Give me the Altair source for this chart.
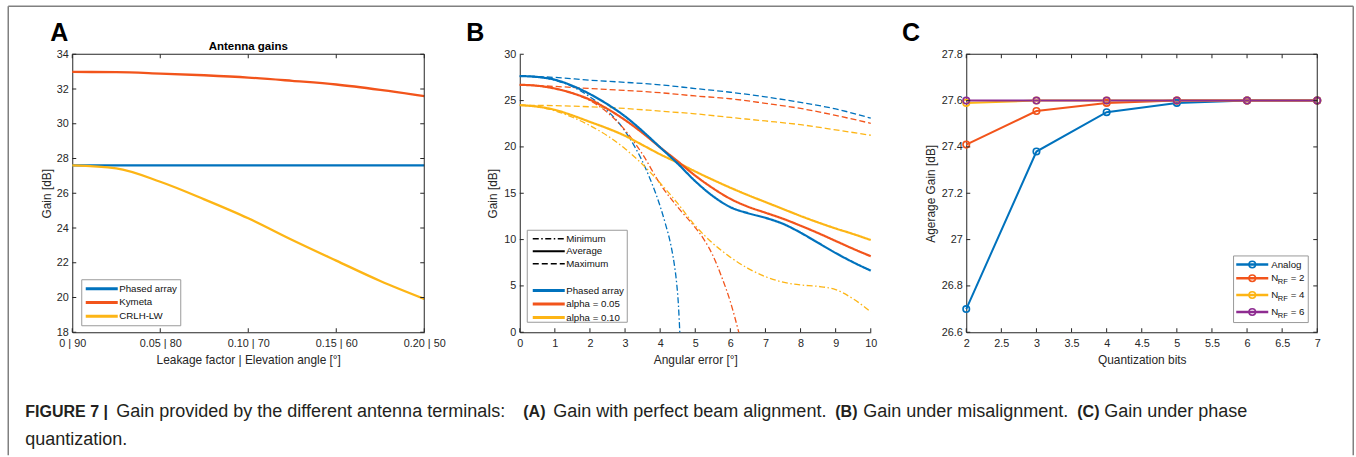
import json

import altair as alt
import pandas as pd

FONT = "Liberation Sans"
INK = "#262626"
TEXT = "#231F20"
FRAME = "#808080"
LEGEND_EDGE = "#9A9A9A"
BLUE, ORANGE, YELLOW, PURPLE = "#0072BD", "#F2541B", "#FDB515", "#8E2C91"

# plot-area sizes of the three panels
W_A, W_B, W_C, H = 352, 351, 351, 278
TICK = 4
LINE_SYMBOL = "M-1,0H5.4"  # long horizontal stroke used as legend symbol

# ---------------- Panel A: gain with perfect alignment ----------------
a_leak = [0.0, 0.025, 0.05, 0.075, 0.1, 0.125, 0.15, 0.175, 0.2]
a_phased = [27.6, 27.6, 27.6, 27.6, 27.6, 27.6, 27.6, 27.6, 27.6]
a_kymeta = [32.98, 32.97, 32.89, 32.79, 32.66, 32.47, 32.26, 31.95, 31.59]
a_crlh = [27.6, 27.43, 26.66, 25.65, 24.56, 23.31, 22.12, 20.95, 19.92]
a_names = ["Phased array", "Kymeta", "CRLH-LW"]
a_xticks = [0, 0.05, 0.1, 0.15, 0.2]
a_xlabels = ["0 | 90", "0.05 | 80", "0.10 | 70", "0.15 | 60", "0.20 | 50"]
a_yticks = [18, 20, 22, 24, 26, 28, 30, 32, 34]

# ---------------- Panel B: gain under misalignment ----------------
b_angle = [0, 0.5, 1, 1.5, 2, 2.5, 3, 3.5, 4, 4.5, 5, 5.5, 6, 6.5, 7, 7.5, 8, 8.5, 9, 9.5, 10]
b_pa_avg = [27.65, 27.55, 27.25, 26.6, 25.7, 24.6, 23.3, 21.7, 19.95, 18.2, 16.3,
            14.7, 13.5, 12.85, 12.35, 11.7, 10.75, 9.65, 8.55, 7.55, 6.65]
b_a05_avg = [26.7, 26.6, 26.3, 25.8, 25.1, 24.1, 22.9, 21.5, 19.95, 18.45, 16.9,
             15.55, 14.4, 13.55, 12.9, 12.25, 11.5, 10.7, 9.85, 9.0, 8.2]
b_a10_avg = [24.5, 24.35, 24.0, 23.4, 22.7, 22.0, 21.2, 20.2, 19.2, 18.3, 17.35,
             16.45, 15.6, 14.8, 14.05, 13.3, 12.55, 11.85, 11.2, 10.6, 9.95]

b_angle_max = [0, 1, 2, 3, 4, 5, 6, 7, 8, 9, 10]
b_pa_max = [27.65, 27.5, 27.2, 26.97, 26.7, 26.3, 25.9, 25.4, 24.8, 24.1, 23.1]
b_a05_max = [26.7, 26.53, 26.3, 26.1, 25.85, 25.5, 25.2, 24.7, 24.15, 23.4, 22.55]
b_a10_max = [24.5, 24.45, 24.33, 24.15, 23.86, 23.57, 23.18, 22.8, 22.4, 21.84, 21.26]

b_pa_min_x = [0, 0.5, 1, 1.5, 2, 2.5, 3, 3.25, 3.5, 3.75, 4, 4.15, 4.3, 4.4, 4.47, 4.52, 4.56]
b_pa_min = [27.65, 27.55, 27.2, 26.5, 25.4, 23.9, 21.7, 20.2, 18.4, 16.2, 13.6, 11.7, 9.5, 7.4, 5.3, 3.0, 0.0]
b_a05_min_x = [0, 0.5, 1, 1.5, 2, 2.5, 3, 3.5, 4, 4.5, 5, 5.25, 5.5, 5.75, 6, 6.24]
b_a05_min = [26.7, 26.6, 26.3, 25.8, 25.0, 23.7, 21.8, 19.2, 16.0, 13.5, 11.3, 10.0, 8.3, 6.0, 3.3, 0.0]
b_a10_min = [24.5, 24.35, 23.9, 23.2, 22.3, 21.2, 19.8, 18.1, 16.1, 13.9, 11.5,
             9.6, 8.1, 6.9, 6.0, 5.4, 5.1, 4.95, 4.6, 3.6, 2.2]

b_series = ["Phased array", "alpha = 0.05", "alpha = 0.10"]
b_stats = ["Minimum", "Average", "Maximum"]
b_xticks = [0, 1, 2, 3, 4, 5, 6, 7, 8, 9, 10]
b_yticks = [0, 5, 10, 15, 20, 25, 30]

# ---------------- Panel C: gain under phase quantization ----------------
c_bits = [2, 3, 4, 5, 6, 7]
c_analog = [26.70, 27.38, 27.55, 27.59, 27.60, 27.60]
c_nrf2 = [27.41, 27.555, 27.59, 27.60, 27.60, 27.60]
c_nrf4 = [27.59, 27.60, 27.60, 27.60, 27.60, 27.60]
c_nrf6 = [27.60, 27.60, 27.60, 27.60, 27.60, 27.60]
c_names = ["Analog", "NRF = 2", "NRF = 4", "NRF = 6"]
c_colors = [BLUE, ORANGE, YELLOW, PURPLE]
c_legend_sub = ["", "RF", "RF", "RF"]
c_legend_tail = ["", "= 2", "= 4", "= 6"]
c_xticks = [2, 2.5, 3, 3.5, 4, 4.5, 5, 5.5, 6, 6.5, 7]
c_yticks = [26.6, 26.8, 27, 27.2, 27.4, 27.6, 27.8]

CAPTION = [
    # (text, x, baseline, bold)
    ("FIGURE 7 |", -47, 363, True),
    ("Gain provided by the different antenna terminals:", 44, 363, False),
    ("(A)", 451, 363, True),
    ("Gain with perfect beam alignment.", 481, 363, False),
    ("(B)", 763, 363, True),
    ("Gain under misalignment.", 791, 363, False),
    ("(C)", 1005, 363, True),
    ("Gain under phase", 1032, 363, False),
    ("quantization.", -47, 391, False),
]


def lookup_expr(values, labels):
    return f"{json.dumps(labels)}[indexof({json.dumps(values)}, datum.value)]"


def txt(text, x, y, size, weight="normal", align="left", baseline="alphabetic",
        color=TEXT, font=FONT):
    return alt.Chart(pd.DataFrame({"t": [text]})).mark_text(
        align=align, baseline=baseline, font=font, fontSize=size,
        fontWeight=weight, color=color,
    ).encode(x=alt.value(x), y=alt.value(y), text="t:N")


def hrule(x, x2, y, color=INK, width=1.0):
    return alt.Chart(pd.DataFrame({"k": [0]})).mark_rule(color=color, strokeWidth=width).encode(
        x=alt.value(x), x2=alt.value(x2), y=alt.value(y))


def vrule(x, y, y2, color=INK, width=1.0):
    return alt.Chart(pd.DataFrame({"k": [0]})).mark_rule(color=color, strokeWidth=width).encode(
        x=alt.value(x), y=alt.value(y), y2=alt.value(y2))


def box(x, x2, y, y2, stroke=LEGEND_EDGE):
    return alt.Chart(pd.DataFrame({"k": [0]})).mark_rect(
        fill="white", stroke=stroke, strokeWidth=1).encode(
        x=alt.value(x), x2=alt.value(x2), y=alt.value(y), y2=alt.value(y2))


def encoders(xdom, ydom, xaxis, yaxis):
    xs = alt.Scale(domain=xdom, nice=False, zero=False)
    ys = alt.Scale(domain=ydom, nice=False, zero=False)

    def X(f):
        return alt.X(f"{f}:Q", scale=xs, axis=xaxis)

    def Y(f):
        return alt.Y(f"{f}:Q", scale=ys, axis=yaxis)
    return X, Y


def inner_ticks(xs, ys, X, Y, width, boxed):
    xdf = pd.DataFrame({"tx": xs})
    ydf = pd.DataFrame({"ty": ys})
    out = [
        alt.Chart(xdf).mark_rule(color=INK, strokeWidth=1).encode(
            x=X("tx"), y=alt.value(H), y2=alt.value(H - TICK)),
        alt.Chart(ydf).mark_rule(color=INK, strokeWidth=1).encode(
            y=Y("ty"), x=alt.value(0), x2=alt.value(TICK)),
    ]
    if boxed:
        out += [
            alt.Chart(xdf).mark_rule(color=INK, strokeWidth=1).encode(
                x=X("tx"), y=alt.value(0), y2=alt.value(TICK)),
            alt.Chart(ydf).mark_rule(color=INK, strokeWidth=1).encode(
                y=Y("ty"), x=alt.value(width), x2=alt.value(width - TICK)),
            hrule(0, width, 0),
            vrule(width, 0, H),
        ]
    return out


def bottom_axis(values, title, width, **kw):
    return alt.Axis(values=values, title=title, titleX=width / 2, titleY=27,
                    titleBaseline="middle", labelPadding=5, **kw)


def left_axis(values, title, tx, **kw):
    return alt.Axis(values=values, title=title, titleX=tx, titleY=H / 2, titleAngle=270,
                    titleBaseline="middle", titleAlign="center", labelPadding=4, **kw)


# ---------- Panel A ----------
AX, AY = encoders([0, 0.2], [18, 34],
                  bottom_axis(a_xticks, "Leakage factor | Elevation angle [°]", W_A,
                              labelExpr=lookup_expr(a_xticks, a_xlabels)),
                  left_axis(a_yticks, "Gain [dB]", -26))
a_df = pd.DataFrame({
    "leak": a_leak * 3,
    "gain": a_phased + a_kymeta + a_crlh,
    "antenna": [n for n in a_names for _ in a_leak],
})
a_lines = alt.Chart(a_df).mark_line(strokeWidth=2.3, interpolate="monotone").encode(
    x=AX("leak"), y=AY("gain"),
    color=alt.Color("antenna:N", sort=a_names,
                    scale=alt.Scale(domain=a_names, range=[BLUE, ORANGE, YELLOW]),
                    legend=alt.Legend(orient="none", legendX=9, legendY=225, title=None,
                                      symbolType=LINE_SYMBOL, symbolSize=100, symbolStrokeWidth=3,
                                      labelOffset=22, padding=3, rowPadding=0.7,
                                      strokeColor=LEGEND_EDGE, fillColor="white")),
)
frame = [
    hrule(-64, 1281, -48, FRAME, 1.5),
    vrule(-64, -48, 401, FRAME, 1.5),
    vrule(1281, -48, 401, FRAME, 1.5),
]
caption = [
    txt(t, x, y, 16, "bold") if b else txt(t, x, y, 18)
    for t, x, y, b in CAPTION
]
panel_a = alt.layer(
    *frame,
    a_lines,
    *inner_ticks(a_xticks, a_yticks, AX, AY, W_A, True),
    txt("Antenna gains", W_A / 2, -4.5, 11.5, "bold", align="center", color="#000"),
    txt("A", -22, -13, 25, "bold", color="#000"),
    *caption,
).properties(width=W_A, height=H)

# ---------- Panel B ----------
BX, BY = encoders([0, 10], [0, 30],
                  bottom_axis(b_xticks, "Angular error [°]", W_B),
                  left_axis(b_yticks, "Gain [dB]", -27.5))
curves = [
    ("Phased array", "Minimum", b_pa_min_x, b_pa_min),
    ("alpha = 0.05", "Minimum", b_a05_min_x, b_a05_min),
    ("alpha = 0.10", "Minimum", b_angle, b_a10_min),
    ("Phased array", "Maximum", b_angle_max, b_pa_max),
    ("alpha = 0.05", "Maximum", b_angle_max, b_a05_max),
    ("alpha = 0.10", "Maximum", b_angle_max, b_a10_max),
    ("alpha = 0.10", "Average", b_angle, b_a10_avg),
    ("alpha = 0.05", "Average", b_angle, b_a05_avg),
    ("Phased array", "Average", b_angle, b_pa_avg),
]
b_df = pd.DataFrame([
    {"angle": x, "gain": g, "series": s, "stat": t}
    for s, t, xs, gs in curves for x, g in zip(xs, gs)
])
stat_legend = alt.Legend(orient="none", legendX=11.5, legendY=178.5, title=None,
                         symbolType=LINE_SYMBOL, symbolSize=100, symbolStrokeColor="black",
                         labelOffset=22, padding=0, rowPadding=1)
b_lines = alt.Chart(b_df).mark_line(interpolate="monotone").encode(
    x=BX("angle"), y=BY("gain"),
    color=alt.Color("series:N", sort=b_series,
                    scale=alt.Scale(domain=b_series, range=[BLUE, ORANGE, YELLOW]),
                    legend=alt.Legend(orient="none", legendX=11.5, legendY=229.8, title=None,
                                      symbolType=LINE_SYMBOL, symbolSize=100, symbolStrokeWidth=3,
                                      labelOffset=22, padding=0, rowPadding=0.5)),
    strokeDash=alt.StrokeDash("stat:O", sort=b_stats,
                              scale=alt.Scale(domain=b_stats, range=[[6, 2.5, 1.5, 2.5], [1, 0], [6, 3]]),
                              legend=stat_legend),
    strokeWidth=alt.StrokeWidth("stat:O", sort=b_stats,
                                scale=alt.Scale(type="ordinal", domain=b_stats, range=[1.3, 2.2, 1.3]),
                                legend=stat_legend),
)
panel_b = alt.layer(
    b_lines,
    *inner_ticks(b_xticks, b_yticks, BX, BY, W_B, False),
    box(7.5, 107.5, 176, 268),
    txt("B", -53.5, -13, 25, "bold", color="#000"),
).properties(width=W_B, height=H)

# ---------- Panel C ----------
CX, CY = encoders([2, 7], [26.6, 27.8],
                  bottom_axis(c_xticks, "Quantization bits", W_C, format="~g"),
                  left_axis(c_yticks, "Agerage Gain [dB]", -36, format="~g"))
c_df = pd.DataFrame({
    "bits": c_bits * 4,
    "gain": c_analog + c_nrf2 + c_nrf4 + c_nrf6,
    "scheme": [n for n in c_names for _ in c_bits],
})
c_color = alt.Color("scheme:N", sort=c_names,
                    scale=alt.Scale(domain=c_names, range=c_colors), legend=None)
c_lines = alt.Chart(c_df).mark_line(strokeWidth=2).encode(
    x=CX("bits"), y=CY("gain"), color=c_color, order=alt.Order("bits:Q"))
c_points = alt.Chart(c_df).mark_point(filled=False, size=42, strokeWidth=1.6, opacity=1).encode(
    x=CX("bits"), y=CY("gain"), color=c_color)

c_leg = [box(267.3, 342, 201.7, 268.3)]
c_rows = [210.3, 224, 240.7, 257.7]
for name, col, sub, tail, yy in zip(c_names, c_colors, c_legend_sub, c_legend_tail, c_rows):
    c_leg.append(hrule(270, 302, yy, col, 2.5))
    c_leg.append(alt.Chart(pd.DataFrame({"k": [0]})).mark_point(
        filled=False, size=42, strokeWidth=1.6, color=col, opacity=1).encode(
        x=alt.value(286), y=alt.value(yy)))
    if sub:
        c_leg.append(txt("N", 305, yy + 3, 9.7, color="#111"))
        c_leg.append(txt(sub, 311.5, yy + 6, 7.5, color="#111"))
        c_leg.append(txt(tail, 324.5, yy + 3, 9.7, color="#111"))
    else:
        c_leg.append(txt(name, 305, yy + 3.5, 9.7, color="#111"))

panel_c = alt.layer(
    c_lines, c_points,
    *inner_ticks(c_xticks, c_yticks, CX, CY, W_C, True),
    *c_leg,
    txt("C", -64.3, -13, 25, "bold", color="#000"),
).properties(width=W_C, height=H)

chart = alt.hconcat(
    panel_a, panel_b, panel_c,
    spacing=95.5, bounds="flush",
    padding={"left": 7.25, "top": 5.25, "right": 0, "bottom": 0},
    background="white",
).resolve_scale(
    color="independent", strokeDash="independent", strokeWidth="independent",
).resolve_legend(
    color="independent", strokeDash="independent", strokeWidth="independent",
).configure_view(stroke=None).configure_axis(
    labelFont=FONT, titleFont=FONT, labelFontSize=10.8, titleFontSize=11.9,
    labelColor=INK, titleColor=INK, titleFontWeight="normal",
    domainColor=INK, domainWidth=1, ticks=False, grid=False,
    labelFlush=False, labelOverlap=False,
).configure_legend(
    labelFont=FONT, labelFontSize=9.7, labelColor="#111", labelLimit=0,
)

chart.save("out.html", embed_options={"renderer": "svg", "actions": False})
